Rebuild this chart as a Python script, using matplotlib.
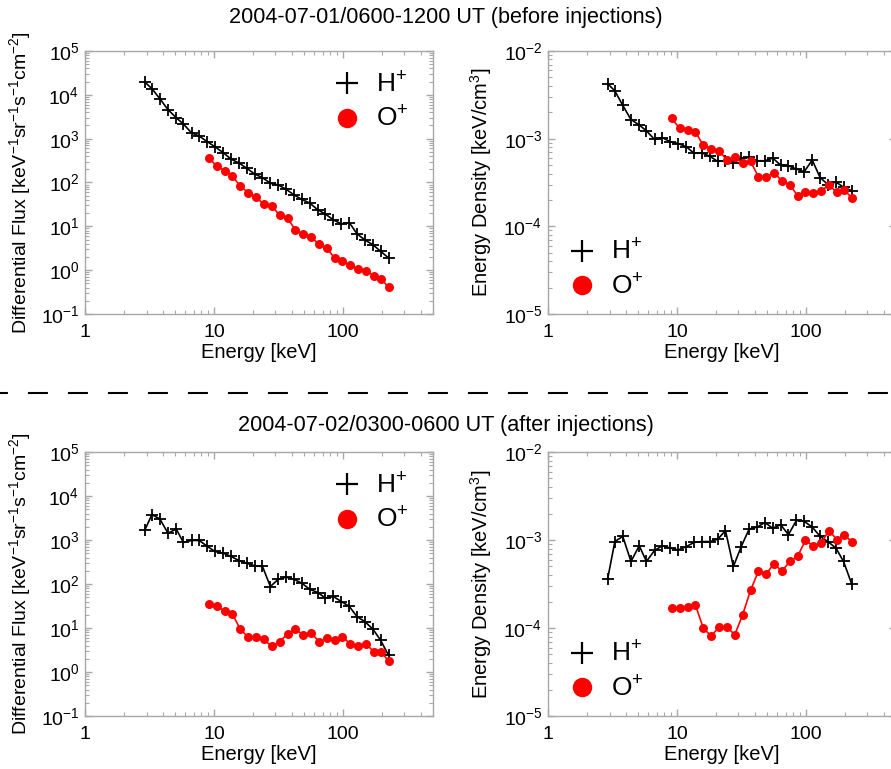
import matplotlib
matplotlib.use("Agg")
import matplotlib.pyplot as plt
from matplotlib.lines import Line2D
from matplotlib.ticker import LogLocator, LogFormatterMathtext, NullFormatter

plt.rcParams['font.family'] = ['Liberation Sans', 'DejaVu Sans']
plt.rcParams['mathtext.fontset'] = 'custom'
plt.rcParams['mathtext.rm'] = 'Liberation Sans'
plt.rcParams['mathtext.it'] = 'Liberation Sans:italic'
plt.rcParams['mathtext.bf'] = 'Liberation Sans:bold'

# energy channels [keV]
energy_h = [2.9, 3.3, 3.8, 4.4, 5.1, 5.8, 6.7, 7.7, 8.9, 10.2, 11.8, 13.6,
            15.6, 18.0, 20.7, 23.8, 27.4, 31.5, 36.3, 41.8, 48.1, 55.3, 63.7,
            73.3, 84.4, 97.1, 112, 129, 148, 171, 196, 226]
energy_o = [9.1, 10.5, 12.1, 13.9, 16.0, 18.4, 21.2, 24.4, 28.1, 32.3, 37.2,
            42.8, 49.2, 56.6, 65.1, 74.9, 86.2, 99.2, 114, 131, 151, 174, 198, 226]

# 2004-07-01/0600-1200 UT
flux_h_before = [19700, 13900, 8200, 4600, 3000, 2150, 1360, 1140, 850, 650,
                 480, 340, 280, 210, 156, 129, 96, 88, 70, 52, 41, 34, 24, 19,
                 14, 11.4, 12.2, 6.7, 4.9, 3.8, 2.7, 1.9]
flux_o_before = [367, 237, 186, 140, 83, 59, 46, 32, 29, 18, 15.3, 8.3, 6.7,
                 5.8, 3.9, 3.2, 1.9, 1.58, 1.28, 1.07, 0.98, 0.74, 0.63, 0.41]
edens_h_before = [4.25e-3, 3.5e-3, 2.4e-3, 1.65e-3, 1.43e-3, 1.23e-3, 9.8e-4,
                  1.03e-3, 9.2e-4, 8.8e-4, 8.1e-4, 6.8e-4, 6.9e-4, 6.3e-4,
                  5.5e-4, 5.6e-4, 5.3e-4, 6.0e-4, 6.1e-4, 5.6e-4, 5.6e-4,
                  6.0e-4, 5.0e-4, 4.9e-4, 4.5e-4, 4.2e-4, 5.7e-4, 3.6e-4,
                  3.0e-4, 3.2e-4, 2.8e-4, 2.55e-4]
edens_o_before = [1.70e-3, 1.31e-3, 1.27e-3, 1.20e-3, 8.4e-4, 7.7e-4, 7.3e-4,
                  5.7e-4, 6.1e-4, 5.3e-4, 5.5e-4, 3.7e-4, 3.7e-4, 4.1e-4,
                  3.3e-4, 3.0e-4, 2.24e-4, 2.44e-4, 2.38e-4, 2.55e-4, 2.96e-4,
                  2.44e-4, 2.6e-4, 2.13e-4]

# 2004-07-02/0300-0600 UT
flux_h_after = [1650, 3750, 3040, 1430, 1770, 880, 975, 975, 713, 548, 502,
                422, 342, 297, 259, 250, 87.5, 128, 143, 128, 104, 76, 64, 48,
                52, 40, 31, 18, 14, 9.4, 5.3, 2.4]
flux_o_after = [35, 31, 24.5, 20.9, 9.4, 6.2, 6.2, 5.5, 3.8, 4.9, 7.3, 9.4,
                7.0, 7.9, 4.9, 5.8, 5.3, 6.4, 4.3, 3.8, 4.3, 2.9, 2.8, 1.8]
edens_h_after = [3.6e-4, 9.6e-4, 1.10e-3, 5.7e-4, 8.6e-4, 5.7e-4, 7.6e-4,
                 8.6e-4, 8.1e-4, 7.7e-4, 8.4e-4, 9.4e-4, 9.6e-4, 9.6e-4,
                 1.02e-3, 1.28e-3, 5.0e-4, 8.4e-4, 1.33e-3, 1.40e-3, 1.58e-3,
                 1.36e-3, 1.49e-3, 1.15e-3, 1.67e-3, 1.63e-3, 1.40e-3, 1.10e-3,
                 9.6e-4, 8.1e-4, 5.7e-4, 3.2e-4]
edens_o_after = [1.68e-4, 1.68e-4, 1.75e-4, 1.83e-4, 1.0e-4, 8.1e-5, 1.02e-4,
                 1.02e-4, 8.4e-5, 1.41e-4, 2.67e-4, 4.4e-4, 4.1e-4, 5.4e-4,
                 4.4e-4, 5.7e-4, 6.5e-4, 9.9e-4, 8.6e-4, 9.2e-4, 1.28e-3,
                 1.01e-3, 1.15e-3, 9.6e-4]

titles = ["2004-07-01/0600-1200 UT (before injections)",
          "2004-07-02/0300-0600 UT (after injections)"]

W, H = 891, 769
fig = plt.figure(figsize=(W / 100, H / 100), dpi=100)

def box(x0, y0, x1, y1):
    # pixel box (top-left origin) -> figure fraction rect
    return [x0 / W, 1 - y1 / H, (x1 - x0) / W, (y1 - y0) / H]

axis_grey = '#a8a8a8'

def style_axes(ax, ylim):
    ax.set_xscale('log')
    ax.set_yscale('log')
    ax.set_xlim(1, 500)
    ax.set_ylim(*ylim)
    for sp in ax.spines.values():
        sp.set_color(axis_grey)
        sp.set_linewidth(1.0)
    ax.xaxis.set_major_locator(LogLocator(base=10, numticks=10))
    ax.xaxis.set_minor_locator(LogLocator(base=10, subs=range(2, 10), numticks=20))
    ax.yaxis.set_major_locator(LogLocator(base=10, numticks=10))
    ax.yaxis.set_minor_locator(LogLocator(base=10, subs=range(2, 10), numticks=20))
    ax.xaxis.set_minor_formatter(NullFormatter())
    ax.yaxis.set_minor_formatter(NullFormatter())
    ax.xaxis.set_major_formatter(plt.FuncFormatter(lambda v, p: '%g' % v))
    ax.yaxis.set_major_formatter(LogFormatterMathtext())
    ax.tick_params(which='both', direction='in', top=True, right=True,
                   color=axis_grey, labelsize=14)
    ax.tick_params(axis='x', which='major', pad=7)
    ax.tick_params(axis='y', which='major', pad=4)
    ax.tick_params(which='major', length=5, width=1)
    ax.tick_params(which='minor', length=3, width=0.8)
    ax.set_xlabel('Energy [keV]', fontsize=14.5)
    ax.xaxis.set_label_coords(0.5, -0.11)

def draw(ax, eh, yh, eo, yo, legend_loc, anchor):
    ax.plot(eh, yh, color='k', lw=1.2, marker='+', ms=9, mew=1.3)
    ax.plot(eo, yo, color='red', lw=1.2, marker='o', ms=6.5, mew=0)
    handles = [Line2D([], [], color='k', ls='none', marker='+', ms=16, mew=1.6),
               Line2D([], [], color='red', ls='none', marker='o', ms=14, mew=0)]
    ax.legend(handles, ['H$^{+}$', 'O$^{+}$'], loc=legend_loc,
              bbox_to_anchor=anchor, frameon=False, fontsize=19,
              handlelength=1.0, handletextpad=0.6, labelspacing=0.35,
              borderaxespad=0)

flux_label = 'Differential Flux [keV$^{-1}$sr$^{-1}$s$^{-1}$cm$^{-2}$]'
edens_label = 'Energy Density [keV/cm$^{3}$]'

rows = [
    (51, 314, flux_h_before, flux_o_before, edens_h_before, edens_o_before),
    (452, 716, flux_h_after, flux_o_after, edens_h_after, edens_o_after),
]

for (top, bot, fh, fo, dh, do) in rows:
    ax = fig.add_axes(box(85, top, 433, bot))
    style_axes(ax, (0.1, 1e5))
    draw(ax, energy_h, fh, energy_o, fo, 'upper right', (0.96, 0.96))
    ax.set_ylabel(flux_label, fontsize=14)
    ax.yaxis.set_label_coords(-0.15, 0.5)

    ax2 = fig.add_axes(box(548, top, 896, bot))
    style_axes(ax2, (1e-5, 1e-2))
    draw(ax2, energy_h, dh, energy_o, do, 'lower left', (0.03, 0.015))
    ax2.set_ylabel(edens_label, fontsize=14.5)
    ax2.yaxis.set_label_coords(-0.155, 0.5)

fig.text(0.5, 1 - 17 / H, titles[0], ha='center', va='center', fontsize=15.6)
fig.text(0.5, 1 - 425 / H, titles[1], ha='center', va='center', fontsize=15.6)

# separator between the two time intervals
fig.add_artist(Line2D([0, 1], [1 - 393 / H, 1 - 393 / H], color='k', lw=1.5,
                      ls=(5.8, (9.6, 9.6)), transform=fig.transFigure))

fig.savefig('out.png', dpi=100)
